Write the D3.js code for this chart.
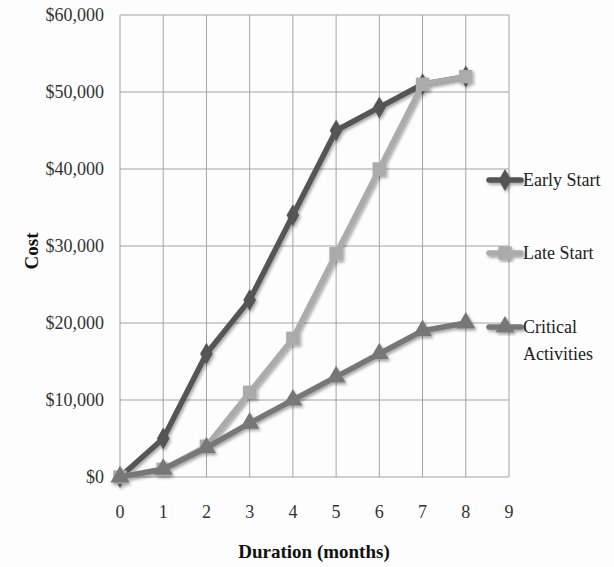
<!DOCTYPE html>
<html>
<head>
<meta charset="utf-8">
<script src="https://cdn.jsdelivr.net/npm/d3@7"></script>
<style>
  body { margin: 0; background: #fff; }
  svg { font-family: "Liberation Serif", "DejaVu Serif", serif; }
</style>
</head>
<body>
<svg width="614" height="567"></svg>
<script>
(function () {
    'use strict';

    const months = [0, 1, 2, 3, 4, 5, 6, 7, 8];
    const earlyStart = [0, 5000, 16000, 23000, 34000, 45000, 48000, 51000, 52000];
    const lateStart = [0, 1000, 4000, 11000, 18000, 29000, 40000, 51000, 52000];
    const criticalActivities = [0, 1000, 3800, 7000, 10000, 13000, 16000, 19000, 20000];
    const xTicks = [0, 1, 2, 3, 4, 5, 6, 7, 8, 9];
    const yTicks = [0, 10000, 20000, 30000, 40000, 50000, 60000];

    const series = [
        { name: ['Early Start'], values: earlyStart, color: '#555555', symbol: d3.symbolDiamond, size: 140, legendY: 180 },
        { name: ['Late Start'], values: lateStart, color: '#ababab', symbol: d3.symbolSquare, size: 180, legendY: 253 },
        { name: ['Critical', 'Activities'], values: criticalActivities, color: '#777777', symbol: d3.symbolTriangle, size: 160, legendY: 327 }
    ];

    const svg = d3.select('svg');
    const left = 120, right = 509, top = 15, bottom = 477;

    const xScale = d3.scaleLinear().domain([0, 9]).range([left, right]);
    const yScale = d3.scaleLinear().domain([0, 60000]).range([bottom, top]);

    // schaduw onder de lijnen
    const defs = svg.append('defs');
    const f = defs.append('filter').attr('id', 'shadow').attr('x', '-20%').attr('y', '-20%').attr('width', '140%').attr('height', '140%');
    f.append('feDropShadow').attr('dx', 1.5).attr('dy', 2).attr('stdDeviation', 1.8)
        .attr('flood-color', '#000').attr('flood-opacity', 0.35);

    svg.append('rect').attr('width', 614).attr('height', 567).attr('fill', '#fdfdfd');

    // grid
    const grid = svg.append('g');
    grid.selectAll('line.v').data(xTicks).enter().append('line')
        .attr('x1', d => xScale(d)).attr('x2', d => xScale(d))
        .attr('y1', top).attr('y2', bottom)
        .attr('stroke', '#a3a3a3').attr('stroke-width', 1);
    grid.selectAll('line.h').data(yTicks).enter().append('line')
        .attr('x1', left).attr('x2', right)
        .attr('y1', d => yScale(d)).attr('y2', d => yScale(d))
        .attr('stroke', '#a3a3a3').attr('stroke-width', 1);

    // assen labels
    const fmt = d3.format('$,');
    svg.append('g').selectAll('text').data(yTicks).enter().append('text')
        .attr('x', 104).attr('y', d => yScale(d) + 6)
        .attr('text-anchor', 'end').attr('font-size', 18).attr('fill', '#333')
        .text(d => fmt(d));

    svg.append('g').selectAll('text').data(xTicks).enter().append('text')
        .attr('x', d => xScale(d)).attr('y', 518)
        .attr('text-anchor', 'middle').attr('font-size', 18).attr('fill', '#333')
        .text(d => d);

    svg.append('text')
        .attr('transform', 'translate(38, 251) rotate(-90)')
        .attr('text-anchor', 'middle').attr('font-size', 19).attr('font-weight', 'bold').attr('fill', '#111')
        .text('Cost');

    svg.append('text')
        .attr('x', 314).attr('y', 558)
        .attr('text-anchor', 'middle').attr('font-size', 19).attr('font-weight', 'bold').attr('fill', '#111')
        .text('Duration (months)');

    // lijnen + markers
    const line = d3.line().x((d, i) => xScale(months[i])).y(d => yScale(d));
    const plot = svg.append('g').attr('filter', 'url(#shadow)');

    series.forEach(s => {
        plot.append('path')
            .attr('d', line(s.values))
            .attr('fill', 'none').attr('stroke', s.color).attr('stroke-width', 5.5)
            .attr('stroke-linejoin', 'round');
        plot.selectAll(null).data(s.values).enter().append('path')
            .attr('d', d3.symbol().type(s.symbol).size(s.size))
            .attr('transform', (d, i) => `translate(${xScale(months[i])}, ${yScale(d)})`)
            .attr('fill', s.color);
    });

    // legenda
    const legend = svg.append('g');
    series.forEach(s => {
        const g = legend.append('g').attr('filter', 'url(#shadow)');
        g.append('line').attr('x1', 489).attr('x2', 521)
            .attr('y1', s.legendY).attr('y2', s.legendY)
            .attr('stroke', s.color).attr('stroke-width', 5.5).attr('stroke-linecap', 'round');
        g.append('path')
            .attr('d', d3.symbol().type(s.symbol).size(s.size))
            .attr('transform', `translate(505, ${s.legendY})`)
            .attr('fill', s.color);
        s.name.forEach((t, k) => {
            legend.append('text')
                .attr('x', 523).attr('y', s.legendY + 6 + k * 27)
                .attr('font-size', 18).attr('fill', '#222')
                .text(t);
        });
    });
}());
</script>
</body>
</html>
